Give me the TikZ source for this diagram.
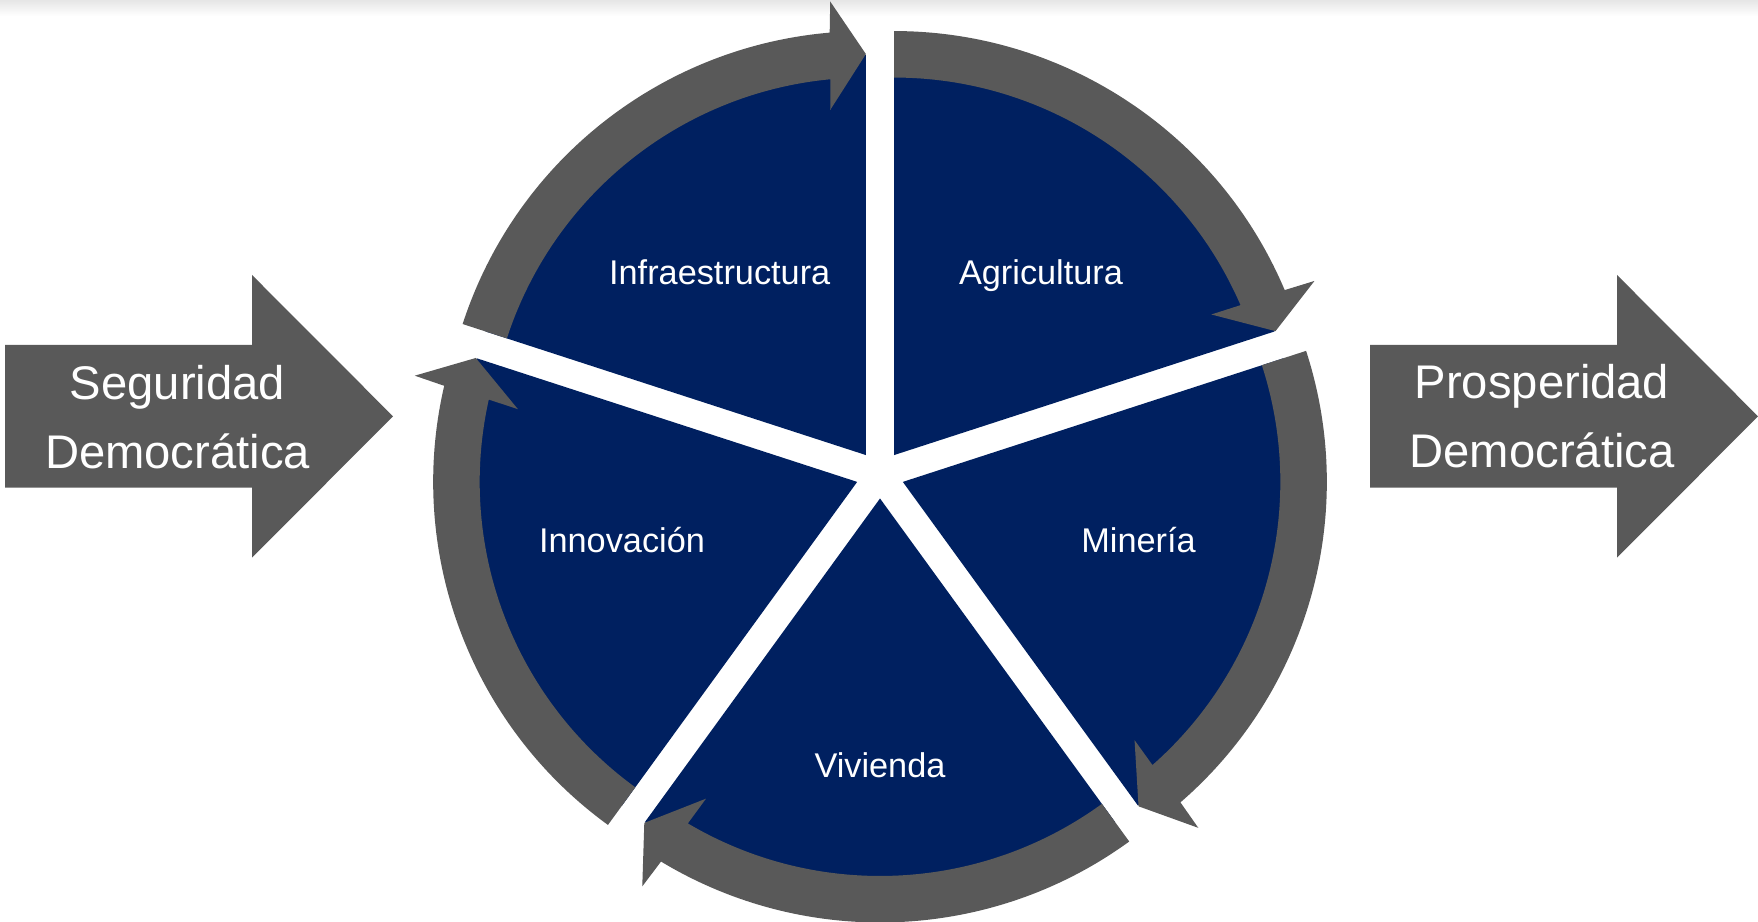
\documentclass[tikz,border=0pt]{standalone}
\usepackage{fontspec}
\setmainfont{Liberation Sans}
\usetikzlibrary{calc}
\definecolor{navyfill}{HTML}{002060}
\definecolor{ringgray}{HTML}{595959}
\tikzset{
  seglab/.style={text=white,anchor=base,inner sep=0pt,font=\fontsize{9.76}{11.7}\selectfont},
  biglab/.style={text=white,anchor=base,inner sep=0pt,font=\fontsize{13.43}{16}\selectfont}
}
\begin{document}
\begin{tikzpicture}
\useasboundingbox (0,0) rectangle (17.58,9.22);
\shade[top color=black!10,bottom color=white] (0,9.06) rectangle (17.58,9.22);
% big side arrows
\foreach \x in {0.05,13.70}
  \fill[ringgray] (\x,5.77) -- ++(2.47,0) -- ++(0,0.70) -- ++(1.41,-1.4135)
    -- ++(-1.41,-1.4135) -- ++(0,0.70) -- ++(-2.47,0) -- cycle;
% exploded pie with curved arrows
\coordinate (o) at (8.80,4.475);
\foreach \a/\s in {90/agr,18/min,-54/viv,-126/inn,162/inf}{
  \coordinate (c-\s) at ($(o)+(\a-36:0.24)$);
  \fill[navyfill] (c-\s) -- ++(\a:4.0) arc[start angle=\a,end angle=\a-72,radius=4.0] -- cycle;
  \fill[ringgray] ($(c-\s)+(\a:3.775)$) -- ($(c-\s)+(\a:4.24)$)
    arc[start angle=\a,end angle=\a-67.1,radius=4.24]
    -- ($(c-\s)+(\a-67.5:4.55)$) -- ($(c-\s)+(\a-72:4.01)$) -- ($(c-\s)+(\a-66.1:3.47)$)
    -- ($(c-\s)+(\a-66.6:3.775)$) arc[start angle=\a-66.6,end angle=\a,radius=3.775] -- cycle;
}
\node[seglab](agr)at(10.41,6.37){Agricultura};
\node[seglab](inf)at(7.197,6.37){Infraestructura};
\node[seglab](min)at(11.385,3.69){Minería};
\node[seglab](inn)at(6.22,3.69){Innovación};
\node[seglab](viv)at(8.80,1.44){Vivienda};
\node[biglab](seg1)at(1.775,5.227){Seguridad};
\node[biglab](seg2)at(1.775,4.537){Democrática};
\node[biglab](pro1)at(15.42,5.235){Prosperidad};
\node[biglab](pro2)at(15.42,4.545){Democrática};
\end{tikzpicture}
\end{document}
